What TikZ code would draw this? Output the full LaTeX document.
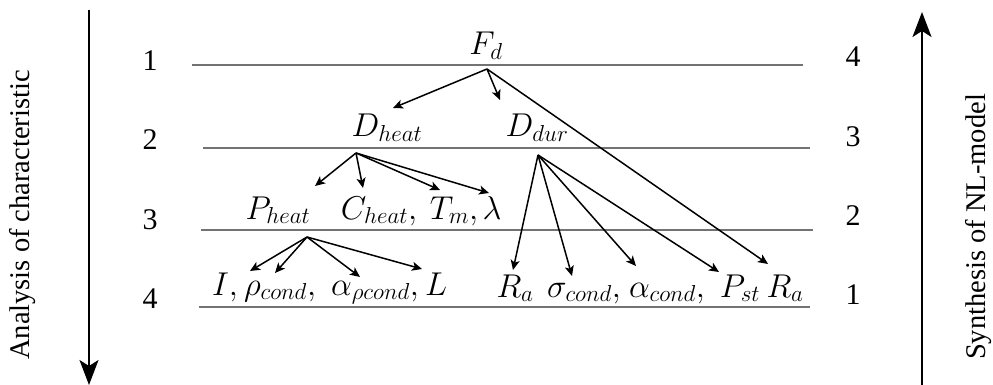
\RequirePackage{fix-cm}
\documentclass[tikz,border=0pt]{standalone}
\usepackage{fontspec}
\setmainfont{Liberation Serif}
\usetikzlibrary{arrows.meta}
\begin{document}
\begin{tikzpicture}[x=1pt,y=-1pt,
  lvl/.style={draw=black!55,line width=1.2pt},
  num/.style={font=\fontsize{30}{34}\selectfont,inner sep=0pt},
  var/.style={font=\fontsize{33}{38}\selectfont,inner sep=0pt,anchor=base},
  conn/.style={line width=1.5pt,-{Stealth[length=10pt,width=9pt,inset=2.5pt]}},
  side/.style={line width=1.7pt,-{Stealth[length=25pt,width=19pt,inset=6pt]}},
  sidetext/.style={font=\fontsize{28.5}{32}\selectfont,rotate=90,inner sep=0pt}]
\useasboundingbox (0,0) rectangle (993,385);
% level lines
\draw[lvl] (192,65) -- (803,65);
\draw[lvl] (203,148) -- (810,148);
\draw[lvl] (201,230) -- (813,230);
\draw[lvl] (199,307) -- (810,307);
% level numbers
\node[num] (l1) at (150,61) {1};
\node[num] (l2) at (150,140) {2};
\node[num] (l3) at (150,220) {3};
\node[num] (l4) at (150,299) {4};
\node[num] (r4) at (853,57) {4};
\node[num] (r3) at (853,137) {3};
\node[num] (r2) at (853,216) {2};
\node[num] (r1) at (853,295) {1};
% side arrows and texts
\coordinate (la) at (89,10);
\coordinate (lb) at (89,385);
\draw[side] (la) -- (lb);
\coordinate (ra) at (922,385);
\coordinate (rb) at (922,12);
\draw[side] (ra) -- (rb);
\node[sidetext] (lt) at (23,215) {Analysis of characteristic};
\node[sidetext] (rt) at (979,227) {Synthesis of NL-model};
% variables
\node[var] (Fd) at (486,55) {$F_d$};
\node[var] (Dheat) at (387,137) {$D_{heat}$};
\node[var] (Ddur) at (537,137) {$D_{dur}$};
\node[var] (Pheat) at (278,219) {$P_{heat}$};
\node[var] (Cheat) at (379,219) {$C_{heat},$};
\node[var] (Tm) at (454,219) {$T_m,$};
\node[var] (lam) at (492,219) {$\lambda$};
\node[var] (I) at (225,295) {$I,$};
\node[var] (rho) at (280,295) {$\rho_{cond},$};
\node[var] (alp) at (375,295) {$\alpha_{\rho cond},$};
\node[var] (L) at (436,295) {$L$};
\node[var] (Ra1) at (515,297) {$R_a$};
\node[var] (sig) at (584,297) {$\sigma_{cond},$};
\node[var] (alc) at (667,297) {$\alpha_{cond},$};
\node[var] (Pst) at (740,297) {$P_{st}$};
\node[var] (Ra2) at (785,297) {$R_a$};
% hubs
\coordinate (Fdh) at (487,69);
\coordinate (Dheath) at (356,153);
\coordinate (Ddurh) at (538,155);
\coordinate (Pheath) at (307,237);
% tips
\coordinate (tDheat) at (393,108);
\coordinate (tDdur) at (500,100);
\coordinate (tRa2) at (768,264);
\coordinate (tPheat) at (315,186);
\coordinate (tCheat) at (363,188);
\coordinate (tTm) at (440,190);
\coordinate (tlam) at (489,193);
\coordinate (tI) at (250,271);
\coordinate (trho) at (275,273);
\coordinate (talp) at (360,277);
\coordinate (tL) at (422,269);
\coordinate (tRa1) at (513,270);
\coordinate (tsig) at (572,276);
\coordinate (talc) at (636,266);
\coordinate (tPst) at (719,272);
% connectors
\draw[conn] (Fdh) -- (tDheat);
\draw[conn] (Fdh) -- (tDdur);
\draw[conn] (Fdh) -- (tRa2);
\draw[conn] (Dheath) -- (tPheat);
\draw[conn] (Dheath) -- (tCheat);
\draw[conn] (Dheath) -- (tTm);
\draw[conn] (Dheath) -- (tlam);
\draw[conn] (Pheath) -- (tI);
\draw[conn] (Pheath) -- (trho);
\draw[conn] (Pheath) -- (talp);
\draw[conn] (Pheath) -- (tL);
\draw[conn] (Ddurh) -- (tRa1);
\draw[conn] (Ddurh) -- (tsig);
\draw[conn] (Ddurh) -- (talc);
\draw[conn] (Ddurh) -- (tPst);
\end{tikzpicture}
\end{document}
